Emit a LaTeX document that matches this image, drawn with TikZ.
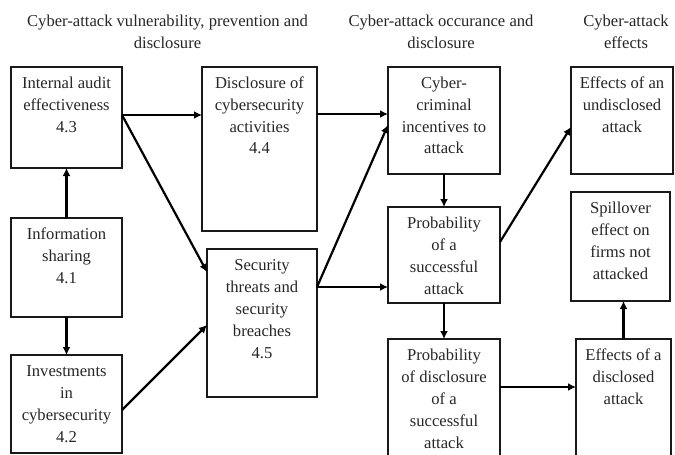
\documentclass[tikz,border=0pt]{standalone}
\usepackage{fontspec}
\setmainfont{Liberation Serif}
\usetikzlibrary{arrows.meta}
\newcommand{\boxtxt}[3]{\parbox[t][#2][t]{#1}{\centering\rule{0pt}{21pt}#3}}
\newcommand{\ttltxt}[2]{\parbox[t]{#1}{\centering\rule{0pt}{26pt}#2}}
\begin{document}
\begin{tikzpicture}[x=1pt,y=-1pt,
  box/.style={draw=black!90, line width=1.9pt, inner sep=0pt, outer sep=0pt, anchor=north west, text=black!85, font=\fontsize{16.6}{22}\selectfont},
  ttl/.style={inner sep=0pt, anchor=north, text=black!85, font=\fontsize{16.6}{22}\selectfont},
  arr/.style={line width=2.8pt, -{Latex[length=8pt,width=8pt]}},
  darr/.style={line width=2.2pt, -{Latex[length=8pt,width=8pt]}}]
\useasboundingbox (0,0) rectangle (675,455);
\clip (0,0) rectangle (675,455);
% titles
\node[ttl] (t1) at (167.5,0) {\ttltxt{300pt}{Cyber-attack vulnerability, prevention and\\disclosure}};
\node[ttl] (t2) at (441,0) {\ttltxt{200pt}{Cyber-attack occurance and\\disclosure}};
\node[ttl] (t3) at (626,0) {\ttltxt{100pt}{Cyber-attack\\effects}};
% boxes
\node[box] (n43) at (11,67) {\boxtxt{111pt}{101pt}{Internal audit\\effectiveness\\4.3}};
\node[box] (n44) at (202,67) {\boxtxt{115pt}{164pt}{Disclosure of\\cybersecurity\\activities\\4.4}};
\node[box] (n41) at (11,218) {\boxtxt{111pt}{99pt}{Information\\sharing\\4.1}};
\node[box] (n42) at (11,355) {\boxtxt{111pt}{98pt}{Investments\\in\\cybersecurity\\4.2}};
\node[box] (n45) at (207,249) {\boxtxt{110pt}{148pt}{Security\\threats and\\security\\breaches\\4.5}};
\node[box] (ncc) at (388,67) {\boxtxt{112pt}{107pt}{Cyber-\\criminal\\incentives to\\attack}};
\node[box] (nps) at (388,207) {\boxtxt{112pt}{96pt}{Probability\\of a\\successful\\attack}};
\node[box] (npd) at (388,339) {\boxtxt{112pt}{125pt}{Probability\\of disclosure\\of a\\successful\\attack}};
\node[box] (nun) at (571,67) {\boxtxt{102pt}{107pt}{Effects of an\\undisclosed\\attack}};
\node[box] (nsp) at (571,192) {\boxtxt{99pt}{109pt}{Spillover\\effect on\\firms not\\attacked}};
\node[box] (ndi) at (576,339) {\boxtxt{95pt}{125pt}{Effects of a\\disclosed\\attack}};
% connectors
\draw[arr] ([yshift=2.5pt]n43.east) coordinate (s1) -- (s1 -| n44.west);
\draw[darr] (s1) -- ([yshift=51pt]n45.west);
\draw[arr] (n41.north) -- (n43.south);
\draw[arr] (n41.south) -- (n42.north);
\draw[darr] ([yshift=-6pt]n42.east) -- ([yshift=-2pt]n45.west);
\draw[arr] ([yshift=35pt]n44.east) coordinate (s2) -- (s2 -| ncc.west);
\draw[darr] ([yshift=36pt]n45.east) coordinate (s3) -- ([yshift=-4.5pt]ncc.west);
\draw[arr] (s3) -- (s3 -| nps.west);
\draw[arr] (ncc.south) -- (nps.north);
\draw[darr] ([yshift=13pt]nps.east) -- ([yshift=-6.5pt]nun.west);
\draw[arr] (nps.south) -- (npd.north);
\draw[arr] ([yshift=14.5pt]npd.east) coordinate (s4) -- (s4 -| ndi.west);
\draw[arr] (ndi.north) -- (ndi.north |- nsp.south);
\end{tikzpicture}
\end{document}
